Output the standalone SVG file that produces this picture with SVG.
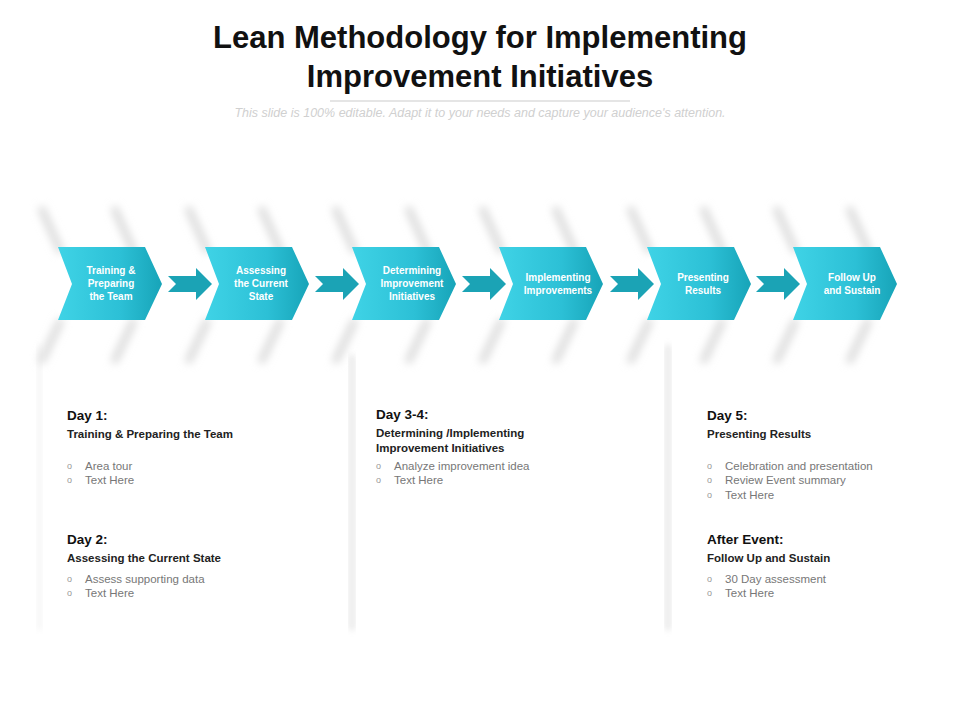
<svg xmlns="http://www.w3.org/2000/svg" width="960" height="720" viewBox="0 0 960 720">
<defs>
<linearGradient id="cg" x1="0" y1="0" x2="1" y2="0"><stop offset="0" stop-color="#3fd3e6"/><stop offset="0.6" stop-color="#2cc0d6"/><stop offset="1" stop-color="#17a4b8"/></linearGradient>
<filter id="bl" x="-50%" y="-50%" width="200%" height="200%"><feGaussianBlur stdDeviation="4"/></filter>
<filter id="bl2" x="-50%" y="-50%" width="200%" height="200%"><feGaussianBlur stdDeviation="3"/></filter>
<polygon id="chev" points="0,0 87,0 104,37 87,73 0,73 14,37"/>
<polygon id="arr" points="0,8 28,8 28,0 44,16 28,32 28,24 0,24 8,16"/>
<g id="streak" stroke="#d8d8d8" stroke-width="7" stroke-linecap="round"><line x1="0" y1="0" x2="18" y2="40"/><line x1="0" y1="150" x2="18" y2="112"/></g>
</defs>
<style>
.ct{font-family:"Liberation Sans",Arial,sans-serif;font-size:10px;font-weight:bold;fill:#fff;text-anchor:middle}
.h{font-family:"Liberation Sans",Arial,sans-serif;font-size:13.5px;font-weight:bold;fill:#111}
.s{font-family:"Liberation Sans",Arial,sans-serif;font-size:11.5px;font-weight:bold;fill:#222}
.b{font-family:"Liberation Sans",Arial,sans-serif;font-size:11.5px;fill:#777}
.o{font-family:"Liberation Sans",Arial,sans-serif;font-size:9px;fill:#999}
</style>
<rect width="960" height="720" fill="#fff"/>
<text x="480" y="48" font-family="Liberation Sans,Arial,sans-serif" font-size="31" font-weight="bold" text-anchor="middle" fill="#111">Lean Methodology for Implementing</text>
<text x="480" y="87" font-family="Liberation Sans,Arial,sans-serif" font-size="31" font-weight="bold" text-anchor="middle" fill="#111">Improvement Initiatives</text>
<line x1="330" y1="101" x2="630" y2="101" stroke="#ddd" stroke-width="1.5"/>
<text x="480" y="117" font-family="Liberation Sans,Arial,sans-serif" font-size="12.5" font-style="italic" text-anchor="middle" fill="#d0d0d0">This slide is 100% editable. Adapt it to your needs and capture your audience's attention.</text>
<g id="panels">
<rect x="350" y="355" width="4" height="275" fill="#ddd" filter="url(#bl2)"/>
<rect x="666" y="345" width="4" height="285" fill="#ddd" filter="url(#bl2)"/>
<rect x="38" y="345" width="3" height="285" fill="#eee" filter="url(#bl2)"/>
</g>
<g id="streaks" filter="url(#bl)">
<use href="#streak" x="42" y="210"/><use href="#streak" x="115" y="210"/>
<use href="#streak" x="189" y="210"/><use href="#streak" x="262" y="210"/>
<use href="#streak" x="336" y="210"/><use href="#streak" x="409" y="210"/>
<use href="#streak" x="483" y="210"/><use href="#streak" x="556" y="210"/>
<use href="#streak" x="631" y="210"/><use href="#streak" x="704" y="210"/>
<use href="#streak" x="777" y="210"/><use href="#streak" x="850" y="210"/>
</g>
<g id="connectors" fill="#1ba3b5">
<use href="#arr" x="168" y="268"/><use href="#arr" x="315" y="268"/><use href="#arr" x="462" y="268"/><use href="#arr" x="610" y="268"/><use href="#arr" x="756" y="268"/>
</g>
<g id="n1"><use href="#chev" x="58" y="247" fill="url(#cg)"/><text class="ct" x="111" y="274">Training &amp;</text><text class="ct" x="111" y="287">Preparing</text><text class="ct" x="111" y="300">the Team</text></g>
<g id="n2"><use href="#chev" x="205" y="247" fill="url(#cg)"/><text class="ct" x="261" y="274">Assessing</text><text class="ct" x="261" y="287">the Current</text><text class="ct" x="261" y="300">State</text></g>
<g id="n3"><use href="#chev" x="352" y="247" fill="url(#cg)"/><text class="ct" x="412" y="274">Determining</text><text class="ct" x="412" y="287">Improvement</text><text class="ct" x="412" y="300">Initiatives</text></g>
<g id="n4"><use href="#chev" x="499" y="247" fill="url(#cg)"/><text class="ct" x="558" y="281">Implementing</text><text class="ct" x="558" y="294">Improvements</text></g>
<g id="n5"><use href="#chev" x="647" y="247" fill="url(#cg)"/><text class="ct" x="703" y="281">Presenting</text><text class="ct" x="703" y="294">Results</text></g>
<g id="n6"><use href="#chev" x="793" y="247" fill="url(#cg)"/><text class="ct" x="852" y="281">Follow Up</text><text class="ct" x="852" y="294">and Sustain</text></g>
<g id="col1">
<text class="h" x="67" y="420">Day 1:</text><text class="s" x="67" y="438">Training &amp; Preparing the Team</text>
<text class="o" x="67" y="469">o</text><text class="b" x="85" y="470">Area tour</text><text class="o" x="67" y="483">o</text><text class="b" x="85" y="484">Text Here</text>
<text class="h" x="67" y="544">Day 2:</text><text class="s" x="67" y="562">Assessing the Current State</text>
<text class="o" x="67" y="582">o</text><text class="b" x="85" y="583">Assess supporting data</text><text class="o" x="67" y="596">o</text><text class="b" x="85" y="597">Text Here</text>
</g>
<g id="col2">
<text class="h" x="376" y="419">Day 3-4:</text><text class="s" x="376" y="437">Determining /Implementing</text><text class="s" x="376" y="452">Improvement Initiatives</text>
<text class="o" x="376" y="469">o</text><text class="b" x="394" y="470">Analyze improvement idea</text><text class="o" x="376" y="483">o</text><text class="b" x="394" y="484">Text Here</text>
</g>
<g id="col3">
<text class="h" x="707" y="420">Day 5:</text><text class="s" x="707" y="438">Presenting Results</text>
<text class="o" x="707" y="469">o</text><text class="b" x="725" y="470">Celebration and presentation</text><text class="o" x="707" y="483">o</text><text class="b" x="725" y="484">Review Event summary</text><text class="o" x="707" y="498">o</text><text class="b" x="725" y="499">Text Here</text>
<text class="h" x="707" y="544">After Event:</text><text class="s" x="707" y="562">Follow Up and Sustain</text>
<text class="o" x="707" y="582">o</text><text class="b" x="725" y="583">30 Day assessment</text><text class="o" x="707" y="596">o</text><text class="b" x="725" y="597">Text Here</text>
</g>
</svg>
